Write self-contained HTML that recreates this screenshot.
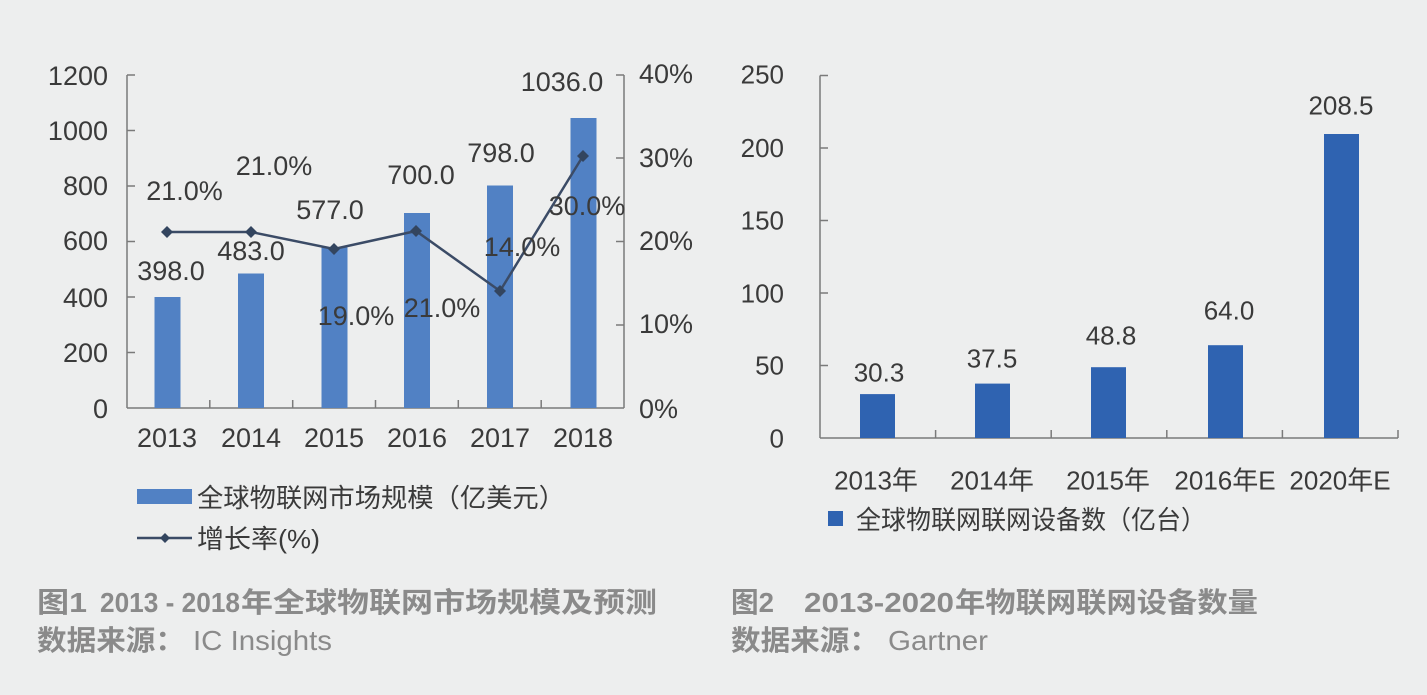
<!DOCTYPE html>
<html>
<head>
<meta charset="utf-8">
<style>
  html,body{margin:0;padding:0;background:#edeeee;}
  svg{display:block;}
  .t{font-family:"Liberation Sans","Noto Sans CJK SC",sans-serif;fill:#3a3a3a;}
  .c{font-family:"Liberation Sans","Noto Sans CJK SC",sans-serif;fill:#8a8a8a;font-weight:bold;font-size:28px;}
</style>
</head>
<body>
<svg width="1427" height="695" viewBox="0 0 1427 695" xmlns="http://www.w3.org/2000/svg">
  <rect x="0" y="0" width="1427" height="695" fill="#edeeee"/>

  <!-- ================= Chart 1 ================= -->
  <g stroke="#7a7a7a" stroke-width="1.5" fill="none">
    <line x1="127" y1="75" x2="127" y2="408"/>
    <line x1="127" y1="408" x2="624" y2="408"/>
    <line x1="624" y1="75" x2="624" y2="408"/>
    <!-- left ticks -->
    <line x1="127" y1="75" x2="135" y2="75"/>
    <line x1="127" y1="130.5" x2="135" y2="130.5"/>
    <line x1="127" y1="186" x2="135" y2="186"/>
    <line x1="127" y1="241.5" x2="135" y2="241.5"/>
    <line x1="127" y1="297" x2="135" y2="297"/>
    <line x1="127" y1="352.5" x2="135" y2="352.5"/>
    <!-- right ticks -->
    <line x1="616" y1="75" x2="624" y2="75"/>
    <line x1="616" y1="158" x2="624" y2="158"/>
    <line x1="616" y1="241.5" x2="624" y2="241.5"/>
    <line x1="616" y1="325" x2="624" y2="325"/>
    <!-- bottom ticks -->
    <line x1="209.8" y1="400" x2="209.8" y2="408"/>
    <line x1="292.7" y1="400" x2="292.7" y2="408"/>
    <line x1="375.5" y1="400" x2="375.5" y2="408"/>
    <line x1="458.3" y1="400" x2="458.3" y2="408"/>
    <line x1="541.2" y1="400" x2="541.2" y2="408"/>
  </g>

  <!-- bars -->
  <g fill="#5181c4">
    <rect x="154.5" y="297" width="26" height="111"/>
    <rect x="238" y="273.5" width="26" height="134.5"/>
    <rect x="321.5" y="247.3" width="26" height="160.7"/>
    <rect x="404" y="213" width="26" height="195"/>
    <rect x="487" y="185.5" width="26" height="222.5"/>
    <rect x="570.5" y="118" width="26" height="290"/>
  </g>

  <!-- line -->
  <polyline points="167,232 251,232 334,249 416,231 500,291 583,156" fill="none" stroke="#3b4b66" stroke-width="2.5"/>
  <g fill="#33455f">
    <path d="M167,226 L173,232 L167,238 L161,232 Z"/>
    <path d="M251,226 L257,232 L251,238 L245,232 Z"/>
    <path d="M334,243 L340,249 L334,255 L328,249 Z"/>
    <path d="M416,225 L422,231 L416,237 L410,231 Z"/>
    <path d="M500,285 L506,291 L500,297 L494,291 Z"/>
    <path d="M583,150 L589,156 L583,162 L577,156 Z"/>
  </g>

  <!-- left axis labels -->
  <g class="t" font-size="27" text-anchor="end">
    <text x="108" y="85">1200</text>
    <text x="108" y="140">1000</text>
    <text x="108" y="195">800</text>
    <text x="108" y="250">600</text>
    <text x="108" y="307">400</text>
    <text x="108" y="362">200</text>
    <text x="108" y="418">0</text>
  </g>
  <!-- right axis labels -->
  <g class="t" font-size="27" text-anchor="start">
    <text x="639" y="83">40%</text>
    <text x="639" y="167">30%</text>
    <text x="639" y="250">20%</text>
    <text x="639" y="333">10%</text>
    <text x="639" y="418">0%</text>
  </g>
  <!-- x labels -->
  <g class="t" font-size="27" text-anchor="middle">
    <text x="167" y="447">2013</text>
    <text x="251" y="447">2014</text>
    <text x="334" y="447">2015</text>
    <text x="417" y="447">2016</text>
    <text x="500" y="447">2017</text>
    <text x="583" y="447">2018</text>
  </g>
  <!-- data labels -->
  <g class="t" font-size="27" text-anchor="middle">
    <text x="171" y="280">398.0</text>
    <text x="251" y="260">483.0</text>
    <text x="330" y="219">577.0</text>
    <text x="421" y="184">700.0</text>
    <text x="501" y="162">798.0</text>
    <text x="562" y="91">1036.0</text>
    <text x="184.5" y="200">21.0%</text>
    <text x="274" y="175">21.0%</text>
    <text x="356" y="325">19.0%</text>
    <text x="442" y="317">21.0%</text>
    <text x="522" y="256">14.0%</text>
    <text x="587" y="215">30.0%</text>
  </g>

  <!-- legend 1 -->
  <rect x="137" y="489" width="55" height="15" fill="#5181c4"/>
  <text class="t" x="197" y="507" font-size="26" textLength="368" lengthAdjust="spacingAndGlyphs">全球物联网市场规模（亿美元）</text>
  <line x1="137" y1="538" x2="192" y2="538" stroke="#3b4b66" stroke-width="2.5"/>
  <path d="M165,533 L170,538 L165,543 L160,538 Z" fill="#33455f"/>
  <text class="t" x="197" y="548" font-size="26" textLength="123" lengthAdjust="spacingAndGlyphs">增长率(%)</text>

  <!-- caption 1 -->
  <text class="c" x="37" y="612" textLength="50" lengthAdjust="spacingAndGlyphs">图1</text>
  <text class="c" x="100" y="612" textLength="140" lengthAdjust="spacingAndGlyphs">2013 - 2018</text>
  <text class="c" x="241" y="612" textLength="416" lengthAdjust="spacingAndGlyphs">年全球物联网市场规模及预测</text>
  <text class="c" x="37" y="650" textLength="148" lengthAdjust="spacingAndGlyphs">数据来源：</text>
  <text class="c" x="193" y="650" font-weight="normal" style="font-weight:normal" textLength="139" lengthAdjust="spacingAndGlyphs">IC Insights</text>

  <!-- ================= Chart 2 ================= -->
  <g stroke="#7a7a7a" stroke-width="1.5" fill="none">
    <line x1="820" y1="75.5" x2="820" y2="438"/>
    <line x1="820" y1="438" x2="1398" y2="438"/>
    <line x1="820" y1="75.5" x2="828" y2="75.5"/>
    <line x1="820" y1="148" x2="828" y2="148"/>
    <line x1="820" y1="220.5" x2="828" y2="220.5"/>
    <line x1="820" y1="293" x2="828" y2="293"/>
    <line x1="820" y1="365.5" x2="828" y2="365.5"/>
    <line x1="935.6" y1="430" x2="935.6" y2="438"/>
    <line x1="1051.2" y1="430" x2="1051.2" y2="438"/>
    <line x1="1166.8" y1="430" x2="1166.8" y2="438"/>
    <line x1="1282.4" y1="430" x2="1282.4" y2="438"/>
    <line x1="1398" y1="430" x2="1398" y2="438"/>
  </g>

  <g fill="#2f63b1">
    <rect x="860" y="394.1" width="35" height="43.9"/>
    <rect x="975" y="383.6" width="35" height="54.4"/>
    <rect x="1091" y="367.2" width="35" height="70.8"/>
    <rect x="1208" y="345.2" width="35" height="92.8"/>
    <rect x="1324" y="134" width="35" height="304"/>
  </g>

  <g class="t" font-size="26" text-anchor="end">
    <text x="784" y="83.5">250</text>
    <text x="784" y="157">200</text>
    <text x="784" y="229.5">150</text>
    <text x="784" y="302.5">100</text>
    <text x="784" y="374.5">50</text>
    <text x="784" y="447.5">0</text>
  </g>
  <g class="t" font-size="26" text-anchor="middle">
    <text x="879" y="381.5">30.3</text>
    <text x="992" y="367.5">37.5</text>
    <text x="1111" y="344.5">48.8</text>
    <text x="1229" y="319.5">64.0</text>
    <text x="1341" y="114.5">208.5</text>
  </g>
  <g class="t" font-size="26" text-anchor="middle">
    <text x="876" y="489.5">2013年</text>
    <text x="992" y="489.5">2014年</text>
    <text x="1108" y="489.5">2015年</text>
    <text x="1225" y="489.5">2016年E</text>
    <text x="1340" y="489.5">2020年E</text>
  </g>

  <!-- legend 2 -->
  <rect x="828" y="511" width="15" height="15" fill="#2f63b1"/>
  <text class="t" x="856" y="529" font-size="26" textLength="350" lengthAdjust="spacingAndGlyphs">全球物联网联网设备数（亿台）</text>

  <!-- caption 2 -->
  <text class="c" x="731" y="612" textLength="43" lengthAdjust="spacingAndGlyphs">图2</text>
  <text class="c" x="804" y="612" textLength="150" lengthAdjust="spacingAndGlyphs">2013-2020</text>
  <text class="c" x="955" y="612" textLength="303" lengthAdjust="spacingAndGlyphs">年物联网联网设备数量</text>
  <text class="c" x="731" y="650" textLength="148" lengthAdjust="spacingAndGlyphs">数据来源：</text>
  <text class="c" x="888" y="650" style="font-weight:normal" textLength="100" lengthAdjust="spacingAndGlyphs">Gartner</text>
</svg>
</body>
</html>
